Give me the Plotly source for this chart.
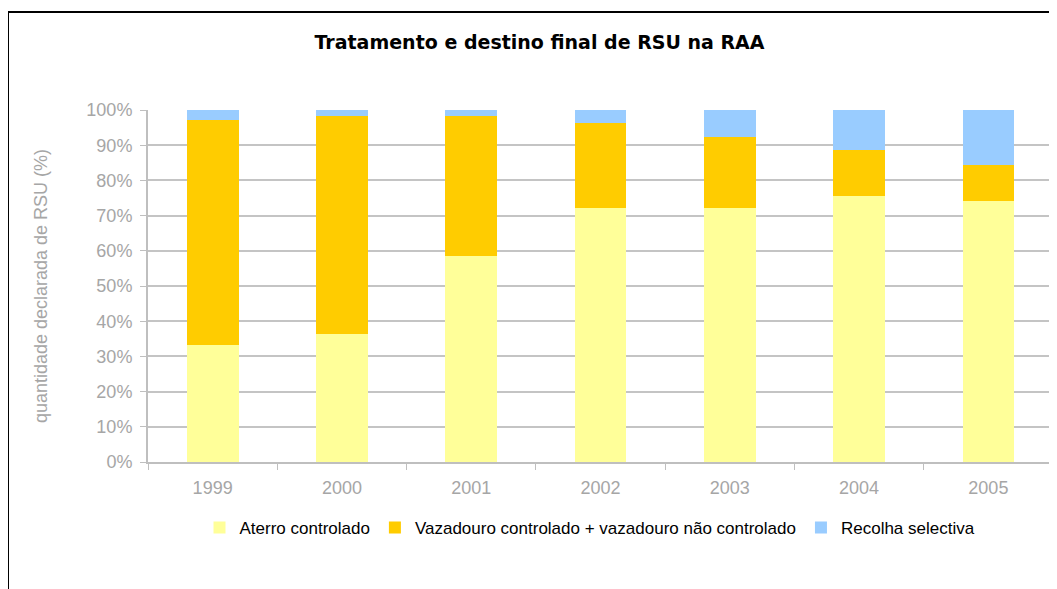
import plotly.graph_objects as go

years = ["1999", "2000", "2001", "2002", "2003", "2004", "2005"]
aterro = [33.2, 36.3, 58.4, 72.2, 72.2, 75.7, 74.2]
vazadouro = [64.1, 62.0, 39.9, 24.2, 20.2, 12.8, 10.3]
recolha = [2.7, 1.7, 1.7, 3.6, 7.6, 11.5, 15.5]
tick_vals = [0, 10, 20, 30, 40, 50, 60, 70, 80, 90, 100]
tick_text = [f"{v}%" for v in tick_vals]

series = [
    ("Aterro controlado", aterro, "#FFFF99"),
    ("Vazadouro controlado + vazadouro não controlado", vazadouro, "#FFCC00"),
    ("Recolha selectiva", recolha, "#99CCFF"),
]

fig = go.Figure()
for name, vals, col in series:
    fig.add_trace(go.Bar(x=years, y=vals, name=name, marker=dict(color=col, line=dict(width=0))))

L, T, R, B = 140, 102, 12, 135
W, H = 1057, 589
pw, ph = W - L - R, H - T - B

gray = "#A6A6A6"
fig.update_layout(
    width=W, height=H,
    barmode="stack", bargap=0.6,
    paper_bgcolor="white", plot_bgcolor="white",
    margin=dict(l=L, r=R, t=T, b=B),
    title=dict(text="<b>Tratamento e destino final de RSU na RAA</b>", x=531.5 / W, xanchor="center",
               y=1 - 34 / H, yanchor="middle", font=dict(family="DejaVu Sans", size=19, color="black")),
    font=dict(family="Liberation Sans, Arial, sans-serif"),
    legend=dict(orientation="h", x=(582 - L) / pw, xanchor="center", y=-(520 - (H - B)) / ph, yanchor="middle",
                font=dict(size=17, color="black"), traceorder="normal",
                itemwidth=30),
    xaxis=dict(type="category", showline=True, linecolor="#BFBFBF", linewidth=2,
               ticks="outside", tickson="boundaries", ticklen=6, tickcolor="#BFBFBF", tickwidth=1,
               ticklabelstandoff=8,
               tickfont=dict(size=18, color=gray), showgrid=False),
    yaxis=dict(range=[0, 100], tickvals=tick_vals, ticktext=tick_text, showline=True,
               linecolor="#BFBFBF", linewidth=2, ticks="outside", ticklen=6, tickcolor="#BFBFBF",
               showgrid=True, gridcolor="#C4C4C4", gridwidth=2, zeroline=False,
               ticklabelstandoff=4,
               tickfont=dict(size=18, color=gray),
               title=dict(text="quantidade declarada de RSU (%)", font=dict(size=18, color=gray), standoff=34)),
    shapes=[dict(type="rect", xref="paper", yref="paper",
                 x0=(0 - L) / pw, x1=(W + 20 - L) / pw,
                 y0=-(H + 20 - (H - B)) / ph, y1=((H - B) - 4) / ph,
                 line=dict(color="black", width=2), fillcolor="rgba(0,0,0,0)", layer="below")],
)

fig.write_html("out.html")
